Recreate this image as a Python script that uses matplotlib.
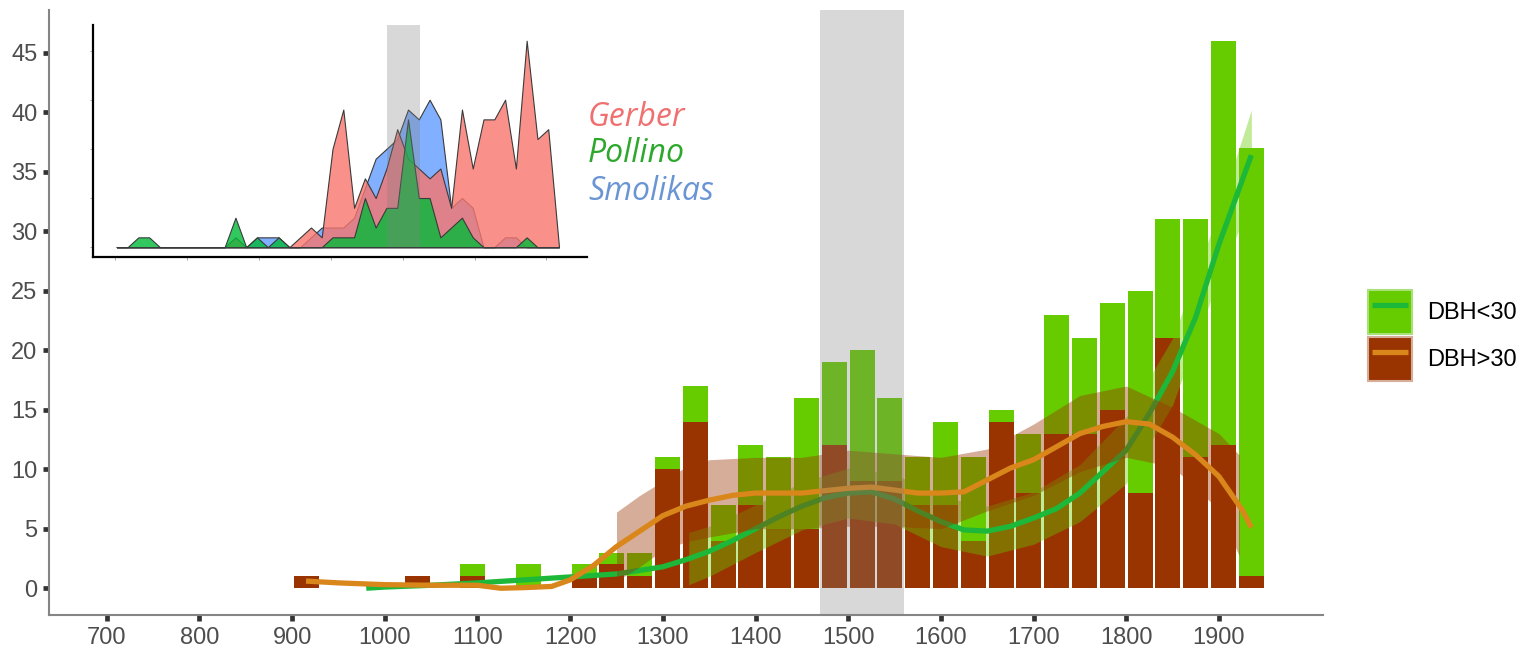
import matplotlib
matplotlib.use("Agg")
import matplotlib.pyplot as plt
from matplotlib.patches import Patch
from matplotlib.lines import Line2D
import numpy as np

plt.rcParams['font.family'] = ['Liberation Sans', 'DejaVu Sans']

# ---- main histogram: 30-year bins (centres) ----
bin_mid = [915, 945, 975, 1005, 1035, 1065, 1095, 1125, 1155, 1185, 1215, 1245,
           1275, 1305, 1335, 1365, 1395, 1425, 1455, 1485, 1515, 1545, 1575, 1605,
           1635, 1665, 1695, 1725, 1755, 1785, 1815, 1845, 1875, 1905, 1935]
small_dbh = [0, 0, 0, 0, 0, 0, 2, 0, 2, 0, 2, 3,
             3, 11, 17, 7, 12, 11, 16, 19, 20, 16, 11, 14,
             11, 15, 13, 23, 21, 24, 25, 31, 31, 46, 37]
large_dbh = [1, 0, 0, 0, 1, 0, 1, 0, 0, 0, 1, 2,
             1, 10, 14, 4, 7, 5, 5, 12, 9, 9, 7, 7,
             4, 14, 8, 13, 13, 15, 8, 21, 11, 12, 1]

# ---- smoothed trends ----
sm_small_x = [980, 1000, 1050, 1100, 1150, 1200, 1250, 1300, 1325, 1350, 1375, 1400,
              1425, 1450, 1475, 1500, 1525, 1550, 1575, 1600, 1625, 1650, 1675, 1700,
              1725, 1750, 1775, 1800, 1825, 1850, 1875, 1900, 1935]
sm_small_y = [0.0, 0.1, 0.25, 0.45, 0.7, 0.95, 1.2, 1.8, 2.4, 3.1, 4.0, 5.0,
              6.0, 6.9, 7.6, 8.0, 8.1, 7.5, 6.5, 5.6, 4.9, 4.8, 5.2, 5.9,
              6.7, 8.0, 9.8, 11.6, 14.7, 18.2, 22.8, 28.9, 36.4]
ci_small_x = [1328, 1350, 1400, 1450, 1500, 1550, 1600, 1650, 1700, 1750, 1800, 1850, 1900, 1935]
ci_small_lo = [0.3, 1.0, 3.0, 4.9, 5.9, 5.4, 3.5, 2.7, 3.7, 5.6, 8.8, 15.4, 26.1, 32.6]
ci_small_hi = [4.7, 5.2, 7.0, 8.9, 10.1, 9.6, 7.7, 6.9, 8.1, 10.4, 14.4, 21.0, 31.7, 40.2]

sm_large_x = [915, 950, 1000, 1050, 1100, 1125, 1150, 1180, 1200, 1225, 1250, 1275,
              1300, 1325, 1350, 1375, 1400, 1450, 1500, 1525, 1550, 1575, 1600, 1625,
              1650, 1675, 1700, 1725, 1750, 1775, 1800, 1825, 1850, 1875, 1900, 1925, 1935]
sm_large_y = [0.6, 0.45, 0.3, 0.25, 0.25, 0.0, 0.05, 0.15, 0.7, 1.9, 3.5, 4.8,
              6.1, 6.9, 7.4, 7.8, 8.0, 8.0, 8.4, 8.5, 8.25, 8.0, 8.0, 8.1,
              9.1, 10.1, 10.8, 11.9, 13.0, 13.6, 14.0, 13.8, 12.7, 11.2, 9.4, 6.6, 5.1]
ci_large_x = [1250, 1275, 1300, 1325, 1350, 1400, 1450, 1500, 1550, 1600, 1650,
              1700, 1750, 1800, 1850, 1900, 1922]
ci_large_lo = [0.6, 1.8, 3.2, 3.9, 4.3, 5.0, 5.0, 5.2, 5.2, 5.0, 6.5,
               7.8, 9.8, 11.0, 10.2, 6.6, 2.7]
ci_large_hi = [6.4, 7.8, 9.0, 10.2, 10.8, 11.0, 11.0, 11.6, 11.3, 11.0, 11.7,
               13.8, 16.2, 17.0, 15.2, 13.0, 11.2]

band_main = (1470, 1560)

# ---- inset: frequency polygons per site ----
inset_x = list(range(705, 1936, 30))
gerber = [0, 0, 0, 0, 0, 0, 0, 0, 0, 0, 0, 1, 0, 0, 0, 0, 0, 1, 2, 1, 10,
          14, 4, 7, 5, 8, 12, 9, 8, 7, 8, 4, 14, 8, 13, 13, 15, 8, 21, 11, 12, 0]
pollino = [0, 0, 1, 1, 0, 0, 0, 0, 0, 0, 0, 3, 0, 1, 0, 1, 0, 0, 0, 0, 1,
           1, 1, 5, 2, 4, 4, 13, 5, 5, 1, 2, 3, 1, 0, 0, 0, 0, 1, 0, 0, 0]
smolikas = [0, 0, 0, 0, 0, 0, 0, 0, 0, 0, 0, 0, 0, 1, 1, 1, 0, 0, 1, 2, 2,
            2, 3, 6, 9, 10, 11, 14, 13, 15, 13, 4, 5, 4, 0, 0, 1, 1, 0, 0, 0, 0]
band_inset = (1456, 1548)

green = "#66CC00"
brown = "#993300"
green_line = "#1DB83A"
orange_line = "#D9861A"

fig = plt.figure(figsize=(15.32, 6.52), dpi=100)
ax = fig.add_axes([49.3 / 1532, 37 / 652, (1322.7 - 49.3) / 1532, 605 / 652])

ax.bar(bin_mid, small_dbh, width=27, color=green, zorder=1)
ax.bar(bin_mid, large_dbh, width=27, color=brown, zorder=2)

ax.fill_between(ci_small_x, ci_small_lo, ci_small_hi, color=green, alpha=0.4, lw=0, zorder=3)
ax.plot(sm_small_x, sm_small_y, color=green_line, lw=3.8, solid_capstyle='butt', zorder=4)
ax.fill_between(ci_large_x, ci_large_lo, ci_large_hi, color=brown, alpha=0.4, lw=0, zorder=5)
ax.plot(sm_large_x, sm_large_y, color=orange_line, lw=3.8, solid_capstyle='butt', zorder=6)

ax.axvspan(*band_main, color=(0.5, 0.5, 0.5), alpha=0.3, lw=0, zorder=7)

ax.set_xlim(638, 2012)
ax.set_ylim(-2.25, 48.6)
ax.set_xticks(range(700, 2000, 100))
ax.set_yticks(range(0, 50, 5))
for s in ['top', 'right']:
    ax.spines[s].set_visible(False)
for s in ['left', 'bottom']:
    ax.spines[s].set_color('#858585')
    ax.spines[s].set_linewidth(1.5)
ax.tick_params(length=4.5, width=3.4, color='#333333', labelsize=17,
               labelcolor='#4D4D4D', pad=4)

# legend: filled key with a short line mark in the middle
h1 = (Patch(facecolor=green, edgecolor='#A8E07A', lw=1.5),
      Line2D([], [], ls='none', marker='_', markersize=26, mew=3.8, color=green_line))
h2 = (Patch(facecolor=brown, edgecolor='#D6AD99', lw=1.5),
      Line2D([], [], ls='none', marker='_', markersize=26, mew=3.8, color=orange_line))
fig.legend([h1, h2], ['DBH<30', 'DBH>30'], loc='upper left',
           bbox_to_anchor=(1368 / 1532, 1 - 290 / 652), frameon=False,
           fontsize=17, handlelength=1.86, handleheight=2.5, numpoints=1,
           labelspacing=0.12, handletextpad=0.66, borderpad=0, borderaxespad=0)

# inset
ins = fig.add_axes([92.7 / 1532, (652 - 257) / 652, 494 / 1532, 232 / 652])
ins.patch.set_visible(False)
for vals, col, z in [(smolikas, '#619CFF', 1), (gerber, '#F8766D', 2), (pollino, '#00BA38', 3)]:
    ins.fill_between(inset_x, 0, vals, facecolor=matplotlib.colors.to_rgba(col, 0.8),
                     edgecolor='#3A3A3A', lw=0.8, zorder=z)
ins.set_xlim(638, 2012)
ins.set_ylim(-1, 22.6)
y0 = (0 - (-1)) / 23.6
ins.axvspan(*band_inset, ymin=y0, ymax=1, color=(0.5, 0.5, 0.5), alpha=0.3, lw=0, zorder=4)
ins.set_xticks(range(700, 2000, 200))
ins.set_yticks(range(0, 21, 5))
ins.tick_params(length=2, width=0.6, color='#999999', labelbottom=False, labelleft=False)
for s in ['top', 'right']:
    ins.spines[s].set_visible(False)
for s in ['left', 'bottom']:
    ins.spines[s].set_color('black')
    ins.spines[s].set_linewidth(1.6)

sites = ['Gerber', 'Pollino', 'Smolikas']
site_cols = ['#F07070', '#2DA82D', '#6A95D4']
for i, (name, col) in enumerate(zip(sites, site_cols)):
    fig.text(588 / 1532, 1 - (117 + 37 * i) / 652, name, color=col, fontsize=23,
             style='italic', family=['Open Sans', 'DejaVu Sans'], va='center', ha='left')

fig.savefig('out.png', dpi=100)
